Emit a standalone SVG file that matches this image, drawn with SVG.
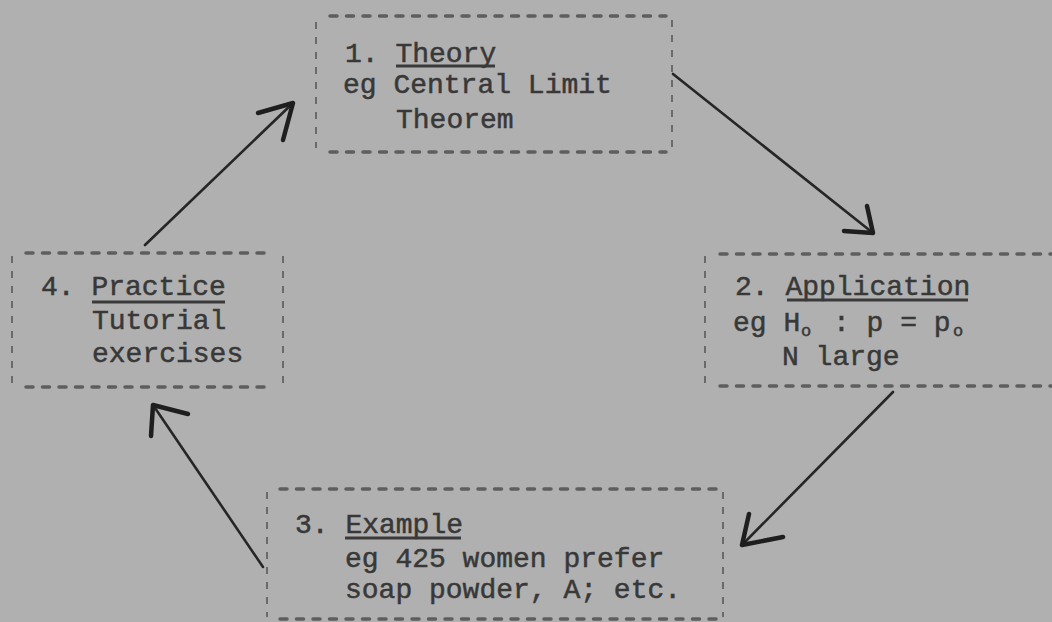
<svg xmlns="http://www.w3.org/2000/svg" width="1052" height="622" viewBox="0 0 1052 622">
<style>
.bg{fill:#b0b0b0}
.hd{fill:none;stroke:#5e5e5e;stroke-width:3.5;stroke-dasharray:7 9.5;stroke-linecap:round}
.vd{fill:none;stroke:#6a6a6a;stroke-width:2;stroke-dasharray:7 8}
.t{font-family:"Liberation Mono","Courier New",monospace;font-size:28px;fill:#383838;stroke:#383838;stroke-width:0.5}
.s{font-size:17px}
.ul{stroke:#3a3a3a;stroke-width:3}
.ar{fill:none;stroke:#262626;stroke-width:2.6;stroke-linecap:round;stroke-linejoin:round}
.ah{fill:none;stroke:#1e1e1e;stroke-width:4.5;stroke-linecap:round;stroke-linejoin:round}
</style>
<rect class="bg" x="0" y="0" width="1052" height="622"/>
<g id="node1">
<line class="hd" x1="330" y1="16" x2="666" y2="16"/>
<line class="hd" x1="330" y1="152" x2="666" y2="152"/>
<line class="vd" x1="316" y1="22" x2="316" y2="148"/>
<line class="vd" x1="672" y1="20" x2="672" y2="148"/>
<text class="t" x="345" y="62">1. Theory</text>
<line class="ul" x1="396" y1="66" x2="495" y2="66"/>
<text class="t" x="343" y="93">eg Central Limit</text>
<text class="t" x="396" y="128">Theorem</text>
</g>
<g id="node2">
<line class="hd" x1="720" y1="254" x2="1052" y2="254"/>
<line class="hd" x1="720" y1="386" x2="1052" y2="386"/>
<line class="vd" x1="705" y1="256" x2="705" y2="384"/>
<text class="t" x="735" y="295">2. Application</text>
<line class="ul" x1="787" y1="300" x2="968" y2="300"/>
<text class="t" x="733" y="331">eg H<tspan class="s" x="801" y="336">o</tspan><tspan x="833" y="331">: p = p</tspan><tspan class="s" x="953" y="336">o</tspan></text>
<text class="t" x="782" y="365">N large</text>
</g>
<g id="node3">
<line class="hd" x1="280" y1="489" x2="720" y2="489"/>
<line class="hd" x1="280" y1="619" x2="720" y2="619"/>
<line class="vd" x1="267" y1="492" x2="267" y2="617"/>
<line class="vd" x1="723" y1="492" x2="723" y2="617"/>
<text class="t" x="295" y="533">3. Example</text>
<line class="ul" x1="345" y1="538" x2="461" y2="538"/>
<text class="t" x="345" y="567">eg 425 women prefer</text>
<text class="t" x="345" y="598">soap powder, A; etc.</text>
</g>
<g id="node4">
<line class="hd" x1="26" y1="253" x2="270" y2="253"/>
<line class="hd" x1="26" y1="387" x2="270" y2="387"/>
<line class="vd" x1="12" y1="256" x2="12" y2="384"/>
<line class="vd" x1="283" y1="256" x2="283" y2="384"/>
<text class="t" x="41" y="295">4. Practice</text>
<line class="ul" x1="92" y1="302" x2="225" y2="302"/>
<text class="t" x="92" y="329">Tutorial</text>
<text class="t" x="92" y="362">exercises</text>
</g>
<g id="connectors">
<line class="ar" x1="673" y1="74" x2="873" y2="233"/>
<polyline class="ah" points="867,206 873,233 844,231"/>
<line class="ar" x1="893" y1="392" x2="742" y2="545"/>
<polyline class="ah" points="749,514 742,545 783,537"/>
<line class="ar" x1="263" y1="567" x2="153" y2="405"/>
<polyline class="ah" points="188,414 153,405 151,436"/>
<line class="ar" x1="145" y1="245" x2="293" y2="103"/>
<polyline class="ah" points="258,113 293,103 283,140"/>
</g>
</svg>
